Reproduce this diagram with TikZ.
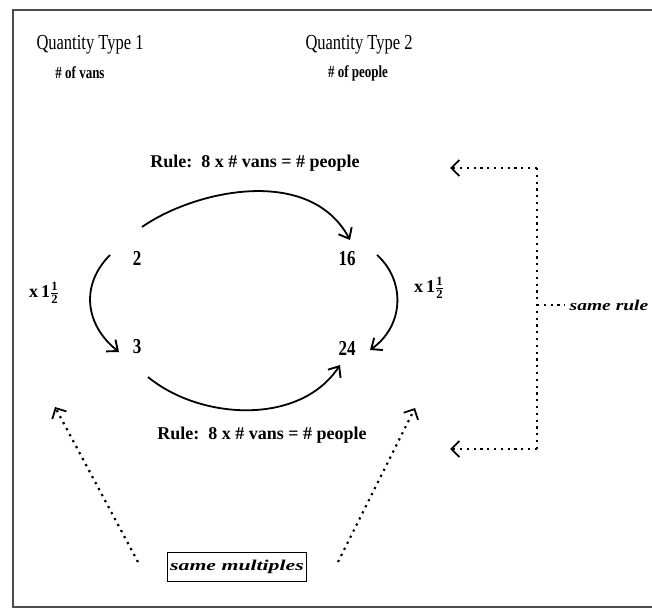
\documentclass[tikz,border=0pt]{standalone}
\usepackage{amsmath}
\usepackage{fontspec}
\setmainfont{Liberation Serif}
\usetikzlibrary{arrows.meta}

% text stretched vertically / horizontally
\newcommand{\tall}[2][1.25]{\scalebox{1}[#1]{#2}}
\newcommand{\wide}[2][1.3]{\scalebox{#1}[1]{#2}}
\newcommand{\halfx}{x\,1$\genfrac{}{}{0.6pt}{1}{\text{\bfseries 1}}{\text{\bfseries 2}}$}

\tikzset{
  heading/.style={font=\fontsize{16.5}{18}\selectfont, inner sep=0pt},
  subhead/.style={font=\fontsize{13}{14}\selectfont\bfseries, inner sep=0pt},
  rulelabel/.style={font=\fontsize{18}{19}\selectfont\bfseries, inner sep=0pt},
  num/.style={font=\fontsize{17}{18}\selectfont\bfseries, inner sep=0pt},
  factor/.style={font=\fontsize{18}{20}\selectfont\bfseries, inner sep=0pt},
  note/.style={font=\fontsize{15}{16}\selectfont\bfseries\itshape, inner sep=0pt},
  curve/.style={line width=1.8pt, -{Straight Barb[length=9pt,width=15pt,line width=1.9pt]}},
  hint/.style={line width=2.2pt, dash pattern=on 2.2pt off 4.6pt,
    -{Straight Barb[length=8pt,width=16pt,line width=1.8pt]}},
  hintline/.style={line width=2.2pt, dash pattern=on 2.2pt off 4.6pt},
  frameline/.style={line width=1.5pt, draw=black!70},
}

\begin{document}
\begin{tikzpicture}[x=1pt, y=-1pt]
  \useasboundingbox (0,0) rectangle (652,609);

  % outer frame (open on the right)
  \draw[frameline] (652,10) -- (13,10) -- (13,607) -- (652,607);

  % column headings
  \node[heading] (q1) at (90,45) {\tall[1.3]{Quantity Type 1}};
  \node[heading] (q2) at (359,45) {\tall[1.3]{Quantity Type 2}};
  \node[subhead] (u1) at (80,73) {\tall[1.3]{\# of vans}};
  \node[subhead] (u2) at (358,73) {\tall[1.3]{\# of people}};

  % the four quantities
  \node[num] (n2) at (137,258) {\tall{2}};
  \node[num] (n16) at (347,259) {\tall{16}};
  \node[num] (n3) at (137,347) {\tall{3}};
  \node[num] (n24) at (347,348) {\tall{24}};

  % rule labels
  \node[rulelabel] (ruletop) at (255,163) {Rule:\ \ 8 x \# vans = \# people};
  \node[rulelabel] (rulebot) at (262,435) {Rule:\ \ 8 x \# vans = \# people};

  % multiplier labels
  \node[factor] (fl) at (44,293) {\halfx};
  \node[factor] (fr) at (429,288) {\halfx};

  % solid arrows between the quantities
  \draw[curve] ([shift={(5,-31)}]n2.center)
    .. controls (195,190) and (310,165) .. ([shift={(3,-19)}]n16.center);
  \draw[curve] ([shift={(-27,-3)}]n2.center)
    .. controls (80,285) and (85,325) .. ([shift={(-18,5)}]n3.center);
  \draw[curve] ([shift={(30,-4)}]n16.center)
    .. controls (405,280) and (405,325) .. ([shift={(23,2)}]n24.center);
  \draw[curve] ([shift={(11,30)}]n3.center)
    .. controls (200,420) and (300,426) .. ([shift={(-7,17)}]n24.center);

  % "same rule" bracket
  \node[note] (samerule) at (609,305) {\wide[1.3]{same rule}};
  \coordinate (bt) at (537,168);
  \coordinate (bm) at (537,305);
  \coordinate (bb) at (537,449);
  \draw[hintline] (bt) -- (bb);
  \draw[hintline] (bm) -- ([xshift=-5pt]samerule.west);
  \draw[hint] (bt) -- ([shift={(195,5)}]ruletop.center);
  \draw[hint] (bb) -- ([shift={(188,14)}]rulebot.center);

  % "same multiples" box
  \node[note, draw, line width=1.5pt, inner sep=0pt,
        minimum width=139pt, minimum height=29pt] (samemult) at (237,567)
        {\wide[1.45]{same multiples}};
  \draw[hint] ([shift={(-99,-5)}]samemult.center) -- ([shift={(-82,60)}]n3.center);
  \draw[hint] ([shift={(101,-5)}]samemult.center) -- ([shift={(68,60)}]n24.center);
\end{tikzpicture}
\end{document}
